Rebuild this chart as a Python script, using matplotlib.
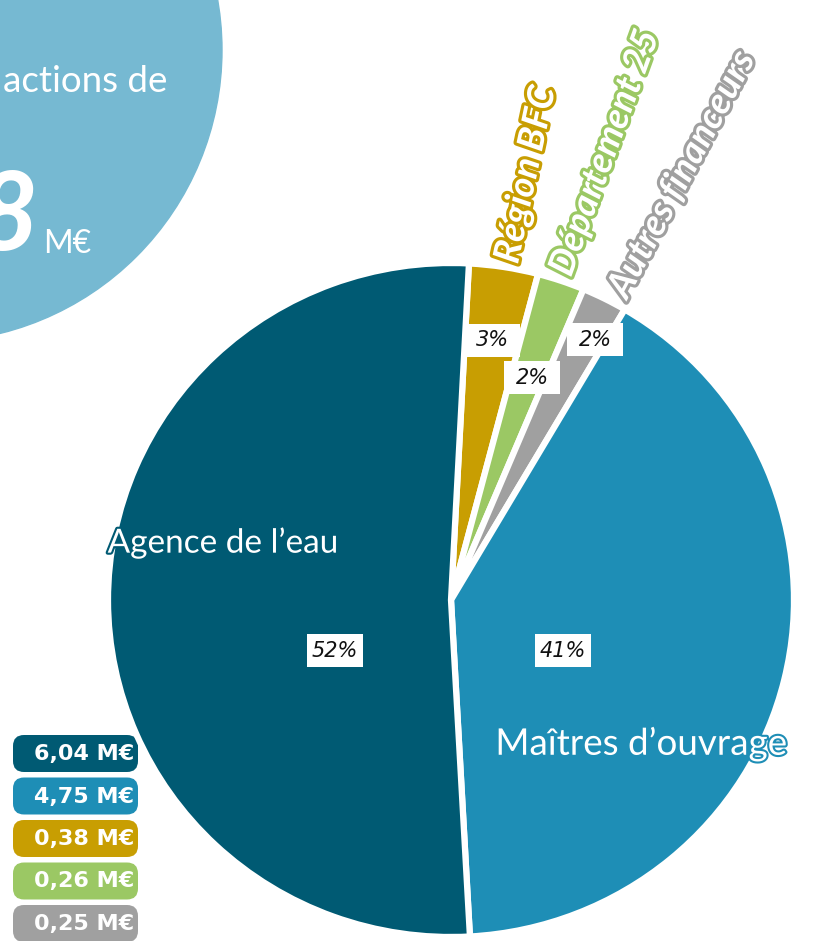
import numpy as np
import matplotlib
matplotlib.use('Agg')
import matplotlib.pyplot as plt
import matplotlib.patheffects as pe
from matplotlib.patches import Circle, FancyBboxPatch, Rectangle

# financeurs des actions (M€)
funders = ['Agence de l’eau', 'Maîtres d’ouvrage', 'Région BFC', 'Département 25', 'Autres financeurs']
amounts = [6.04, 4.75, 0.38, 0.26, 0.25]
amount_labels = ['6,04 M€', '4,75 M€', '0,38 M€', '0,26 M€', '0,25 M€']
pct_labels = ['52%', '41%', '3%', '2%', '2%']
colors = ['#005A73', '#1E8EB6', '#C89E02', '#9BC864', '#A0A0A0']

# order of the wedges, clockwise from the top
draw_order = [2, 3, 4, 1, 0]

# label placement (radius fraction, angle shift from wedge middle)
pct_radius = [0.37, 0.36, 0.78, 0.70, 0.88]
pct_shift = [24, -11, 0, -1, -2]
name_radius = [0.68, 0.72, 1.28, 1.40, 1.43]
name_shift = [-12, -26, -1, 0, -1.5]
name_rot = [0, 0, 78, 70, 62]
name_size = [24, 26.5, 26.5, 26.5, 26.5]

plt.rcParams['font.family'] = ['Lato', 'DejaVu Sans']

fig = plt.figure(figsize=(8.16, 9.41), dpi=100)

# background layer in pixel coordinates
bg = fig.add_axes([0, 0, 1, 1])
bg.set_xlim(0, 816)
bg.set_ylim(941, 0)
bg.axis('off')
bg.add_patch(Circle((-70, 50), 292, color='#76B9D2', zorder=0))
bg.text(3, 92, 'actions de', color='white', fontsize=26.5, ha='left', va='baseline')
bg.text(38, 250, '8', color='white', fontsize=79, fontweight='bold', style='italic',
        ha='right', va='baseline')
bg.text(43, 253, 'M€', color='white', fontsize=23, ha='left', va='baseline')

for k, (lab, col) in enumerate(zip(amount_labels, colors)):
    top = 735 + k * 42.5
    bg.add_patch(FancyBboxPatch((13, top), 125, 37, boxstyle='round,pad=0,rounding_size=11',
                                fc=col, ec='none'))
    bg.text(84, top + 19, lab, color='white', fontsize=16, fontweight='bold',
            ha='center', va='center', family=['DejaVu Sans'])

# pie layer
ax = fig.add_axes([0, 0, 1, 1])
ax.patch.set_visible(False)
wedges, _ = ax.pie([amounts[i] for i in draw_order], colors=[colors[i] for i in draw_order],
                   startangle=87, counterclock=False, radius=1,
                   wedgeprops=dict(edgecolor='white', linewidth=4.5))
wedge_of = {draw_order[k]: w for k, w in enumerate(wedges)}

sx, sy = 343.0, 337.0
cx, cy = 451.0, 600.0
ax.set_aspect('auto')
ax.set_xlim(-cx / sx, (816 - cx) / sx)
ax.set_ylim(-(941 - cy) / sy, cy / sy)
ax.axis('off')

for i in range(len(amounts)):
    w = wedge_of[i]
    mid = (w.theta1 + w.theta2) / 2

    a = np.deg2rad(mid + pct_shift[i])
    px, py = pct_radius[i] * np.cos(a), pct_radius[i] * np.sin(a)
    bw, bh = 56 / sx, 33 / sy
    ax.add_patch(Rectangle((px - bw / 2, py - bh / 2), bw, bh, fc='white', ec='none', zorder=3))
    ax.text(px, py, pct_labels[i], fontsize=15, style='italic', color='#111111',
            ha='center', va='center', zorder=4, family=['DejaVu Sans'])

    a = np.deg2rad(mid + name_shift[i])
    nx, ny = name_radius[i] * np.cos(a), name_radius[i] * np.sin(a)
    if name_rot[i] == 0:
        ax.text(nx, ny, funders[i], fontsize=name_size[i], color='white', ha='center',
                va='baseline', zorder=5,
                path_effects=[pe.Stroke(linewidth=3, foreground=colors[i]), pe.Normal()])
    else:
        ax.text(nx, ny, funders[i], fontsize=name_size[i], fontweight='bold', style='italic',
                color='white', rotation=name_rot[i], rotation_mode='anchor', ha='center',
                va='center', zorder=5,
                path_effects=[pe.Stroke(linewidth=4.5, foreground=colors[i]), pe.Normal()])

fig.savefig('out.png', dpi=100)
